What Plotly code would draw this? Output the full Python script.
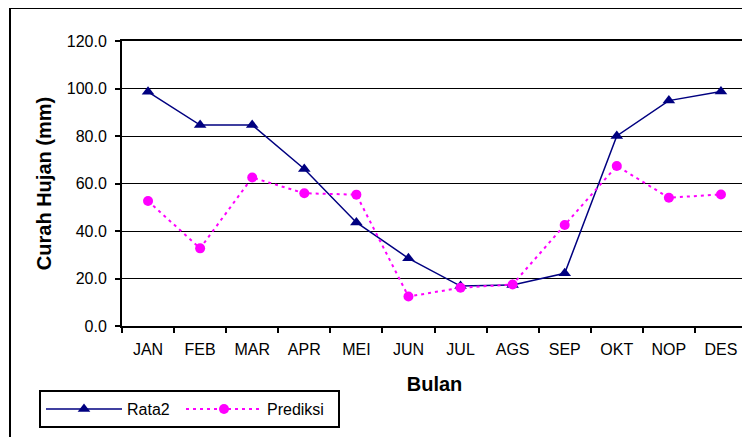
import plotly.graph_objects as go

months = ["JAN", "FEB", "MAR", "APR", "MEI", "JUN", "JUL", "AGS", "SEP", "OKT", "NOP", "DES"]
rata2 = [98.6, 84.6, 84.6, 66.1, 43.6, 28.5, 16.8, 17.3, 22.2, 80.0, 94.9, 98.7]
prediksi = [52.6, 32.7, 62.5, 55.9, 55.3, 12.4, 16.1, 17.5, 42.5, 67.4, 54.0, 55.4]
y_ticks = [0, 20, 40, 60, 80, 100, 120]

FONT = "Liberation Sans, Arial, sans-serif"

fig = go.Figure()
fig.add_trace(go.Scatter(
    x=months, y=rata2, name="Rata2", mode="lines+markers",
    line=dict(color="#000080", width=1.5),
    marker=dict(symbol="triangle-up", size=11, color="#000080"),
    legendwidth=49,
))
fig.add_trace(go.Scatter(
    x=months, y=prediksi, name="Prediksi", mode="lines+markers",
    line=dict(color="#FF00FF", width=2, dash="3px,4px"),
    marker=dict(symbol="circle", size=10, color="#FF00FF"),
    legendwidth=66,
))

fig.update_layout(
    width=750, height=437,
    margin=dict(l=114, r=11, t=33, b=119, autoexpand=False),
    paper_bgcolor="white", plot_bgcolor="white",
    font=dict(family=FONT, size=16, color="black"),
    showlegend=True,
    legend=dict(
        orientation="h", x=-0.1328, y=-0.2246, xanchor="left", yanchor="top",
        bordercolor="black", borderwidth=2, bgcolor="white",
        font=dict(family=FONT, size=16, color="black"),
        itemwidth=76,
    ),
    shapes=[dict(
        type="rect", xref="paper", yref="paper",
        x0=-0.1792, y0=-0.6, x1=1.2, y1=1.1158,
        line=dict(color="black", width=2), fillcolor="rgba(0,0,0,0)", layer="below",
    )],
)

fig.update_xaxes(
    type="category", range=[-0.5, 11.5],
    showline=True, linecolor="black", linewidth=2, mirror=True,
    ticks="outside", ticklen=5, tickcolor="black", tickwidth=1.5,
    tickson="boundaries", showgrid=False,
    tickfont=dict(family=FONT, size=16, color="black"),
    ticklabelstandoff=8,
    title=dict(text="<b>Bulan</b>", font=dict(family=FONT, size=20, color="black"), standoff=20),
)
fig.update_yaxes(
    range=[0, 120], tickvals=y_ticks, tickformat=".1f",
    showline=True, linecolor="black", linewidth=2, mirror=True,
    ticks="outside", ticklen=5, tickcolor="black", tickwidth=1.5,
    showgrid=True, gridcolor="black", gridwidth=1, zeroline=False,
    tickfont=dict(family=FONT, size=16, color="black"),
    ticklabelstandoff=5,
    title=dict(text="<b>Curah Hujan (mm)</b>", font=dict(family=FONT, size=20, color="black"), standoff=10),
)

fig.write_html("out.html")
